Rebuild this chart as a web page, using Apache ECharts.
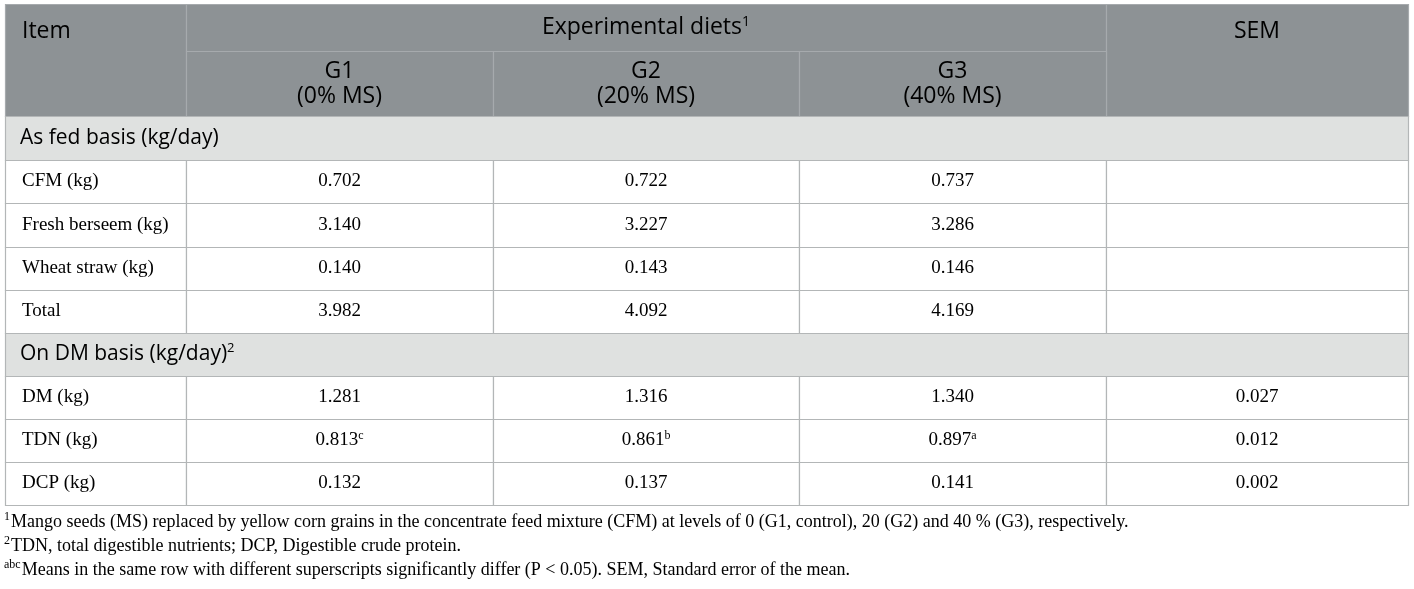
<!DOCTYPE html>
<html>
<head>
<meta charset="utf-8">
<script src="https://cdn.jsdelivr.net/npm/echarts@6/dist/echarts.min.js"></script>
<style>
html, body { margin: 0; padding: 0; background: #fff; }
#main { width: 1414px; height: 589px; }
</style>
</head>
<body>
<div id="main"></div>
<script>
// table content
var groups = ['G1', 'G2', 'G3'];
var levels = ['0% MS', '20% MS', '40% MS'];
var sections = ['As fed basis (kg/day)', 'On DM basis (kg/day)'];
var sectionNotes = ['', '2'];
var items = ['CFM (kg)', 'Fresh berseem (kg)', 'Wheat straw (kg)', 'Total', 'DM (kg)', 'TDN (kg)', 'DCP (kg)'];
var itemSection = [0, 0, 0, 0, 1, 1, 1];
var g1 = [0.702, 3.140, 0.140, 3.982, 1.281, 0.813, 0.132];
var g2 = [0.722, 3.227, 0.143, 4.092, 1.316, 0.861, 0.137];
var g3 = [0.737, 3.286, 0.146, 4.169, 1.340, 0.897, 0.141];
var sem = [null, null, null, null, 0.027, 0.012, 0.002];
var g1Sup = ['', '', '', '', '', 'c', ''];
var g2Sup = ['', '', '', '', '', 'b', ''];
var g3Sup = ['', '', '', '', '', 'a', ''];
var footMarks = ['1', '2', 'abc'];
var footTexts = [
    'Mango seeds (MS) replaced by yellow corn grains in the concentrate feed mixture (CFM) at levels of 0 (G1, control), 20 (G2) and 40 % (G3), respectively.',
    'TDN, total digestible nutrients; DCP, Digestible crude protein.',
    'Means in the same row with different superscripts significantly differ (P < 0.05). SEM, Standard error of the mean.'
];

// layout (axis units = px)
var colW = [181, 307, 306, 307, 302];
var rowH = [47, 65, 44, 43, 44, 43, 43, 43, 43, 43, 43];
var edgesX = [0], edgesY = [0];
colW.forEach(function (w, i) { edgesX.push(edgesX[i] + w); });
rowH.forEach(function (h, i) { edgesY.push(edgesY[i] + h); });

var SANS = '"Open Sans", Lato, sans-serif';
var SERIF = '"Liberation Serif", "Times New Roman", serif';
var HEAD_BG = '#8d9295';
var HEAD_LINE = '#a6aaad';
var SECT_BG = '#dfe1e0';
var LINE = '#b3b6b7';

var cells = [];
cells.push({ c: [0, 1], r: [0, 2], kind: 'head', text: '{m|Item}', align: 'left', pad: 17, top: true });
cells.push({ c: [1, 4], r: [0, 1], kind: 'head', text: '{m|Experimental diets}{s|1}', align: 'center' });
cells.push({ c: [4, 5], r: [0, 2], kind: 'head', text: '{m|SEM}', align: 'center', top: true });
groups.forEach(function (g, i) {
    cells.push({ c: [1 + i, 2 + i], r: [1, 2], kind: 'head', text: '{m|' + g + '}\n{m|(' + levels[i] + ')}', align: 'center' });
});

var row = 2;
var lastSection = -1;
var fmt = function (v, s) {
    if (v == null) return '';
    return '{m|' + v.toFixed(3) + '}' + (s ? '{s|' + s + '}' : '');
};
items.forEach(function (it, i) {
    if (itemSection[i] !== lastSection) {
        lastSection = itemSection[i];
        var note = sectionNotes[lastSection];
        cells.push({ c: [0, 5], r: [row, row + 1], kind: 'sect', text: '{m|' + sections[lastSection] + '}' + (note ? '{s|' + note + '}' : ''), align: 'left', pad: 15 });
        row++;
    }
    cells.push({ c: [0, 1], r: [row, row + 1], kind: 'body', text: '{m|' + it + '}', align: 'left', pad: 17 });
    cells.push({ c: [1, 2], r: [row, row + 1], kind: 'body', text: fmt(g1[i], g1Sup[i]), align: 'center' });
    cells.push({ c: [2, 3], r: [row, row + 1], kind: 'body', text: fmt(g2[i], g2Sup[i]), align: 'center' });
    cells.push({ c: [3, 4], r: [row, row + 1], kind: 'body', text: fmt(g3[i], g3Sup[i]), align: 'center' });
    cells.push({ c: [4, 5], r: [row, row + 1], kind: 'body', text: fmt(sem[i], ''), align: 'center' });
    row++;
});

var richFor = function (kind) {
    if (kind === 'body') {
        return {
            m: { fontFamily: SERIF, fontSize: 19, lineHeight: 22, color: '#1a1a1a' },
            s: { fontFamily: SERIF, fontSize: 12, lineHeight: 22, color: '#1a1a1a', verticalAlign: 'top', padding: [0, 0, 9, 0] }
        };
    }
    if (kind === 'head') {
        return {
            m: { fontFamily: SANS, fontSize: 23, lineHeight: 25, color: '#ffffff' },
            s: { fontFamily: SANS, fontSize: 14, lineHeight: 25, color: '#ffffff', verticalAlign: 'top', padding: [0, 0, 10, 0] }
        };
    }
    return {
        m: { fontFamily: SANS, fontSize: 21, lineHeight: 25, color: '#1a1a1a' },
        s: { fontFamily: SANS, fontSize: 13, lineHeight: 25, color: '#1a1a1a', verticalAlign: 'top', padding: [0, 0, 10, 0] }
    };
};

var cellData = cells.map(function (c, i) {
    return [edgesX[c.c[0]], edgesY[c.r[0]], edgesX[c.c[1]], edgesY[c.r[1]], i];
});

var chart = echarts.init(document.getElementById('main'));
var option = {
    animation: false,
    grid: { left: 5, top: 4, width: edgesX[edgesX.length - 1], height: edgesY[edgesY.length - 1] },
    xAxis: { type: 'value', min: 0, max: edgesX[edgesX.length - 1], show: false },
    yAxis: { type: 'value', min: 0, max: edgesY[edgesY.length - 1], inverse: true, show: false },
    series: [{
        type: 'custom',
        clip: false,
        silent: true,
        encode: { x: [0, 2], y: [1, 3] },
        data: cellData,
        renderItem: function (params, api) {
            var cell = cells[api.value(4)];
            var p0 = api.coord([api.value(0), api.value(1)]);
            var p1 = api.coord([api.value(2), api.value(3)]);
            var w = p1[0] - p0[0], h = p1[1] - p0[1];
            var fill = cell.kind === 'head' ? HEAD_BG : (cell.kind === 'sect' ? SECT_BG : '#ffffff');
            var stroke = cell.kind === 'head' ? HEAD_LINE : LINE;
            var tx = cell.align === 'left' ? p0[0] + cell.pad : p0[0] + w / 2;
            var ty = cell.top ? p0[1] + 27 : p0[1] + h / 2;
            return {
                type: 'group',
                children: [{
                    type: 'rect',
                    shape: { x: p0[0] + 0.5, y: p0[1] + 0.5, width: w, height: h },
                    style: { fill: fill, stroke: stroke, lineWidth: 1.2 }
                }, {
                    type: 'text',
                    style: {
                        text: cell.text,
                        x: tx,
                        y: ty,
                        align: cell.align,
                        verticalAlign: 'middle',
                        rich: richFor(cell.kind)
                    }
                }]
            };
        }
    }],
    graphic: footTexts.map(function (t, i) {
        return {
            type: 'text',
            left: 4,
            top: 511 + i * 24,
            silent: true,
            style: {
                text: '{s|' + footMarks[i] + '}{m|' + t + '}',
                rich: {
                    m: { fontFamily: SERIF, fontSize: 18, lineHeight: 22, color: '#1a1a1a' },
                    s: { fontFamily: SERIF, fontSize: 12, lineHeight: 22, color: '#1a1a1a', verticalAlign: 'top', padding: [0, 1, 8, 0] }
                }
            }
        };
    })
};
chart.setOption(option);
</script>
</body>
</html>
